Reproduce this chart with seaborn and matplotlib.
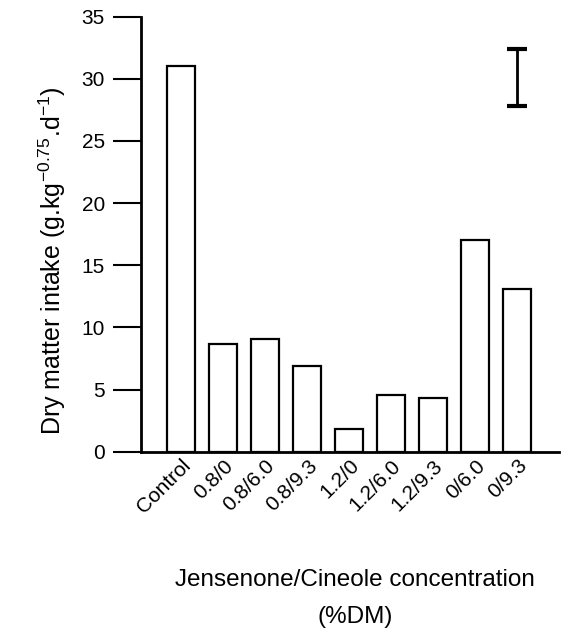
import pandas as pd
import seaborn as sns
from matplotlib import pyplot as plt

# data
treatments = ['Control', '0.8/0', '0.8/6.0', '0.8/9.3', '1.2/0',
              '1.2/6.0', '1.2/9.3', '0/6.0', '0/9.3']
intake = [31.0, 8.7, 9.1, 6.9, 1.8, 4.6, 4.3, 17.0, 13.1]
# standalone error bar (top right)
err_low = 27.8
err_high = 32.4

df = pd.DataFrame({'treatment': treatments, 'intake': intake})

sns.set_style('ticks', {'axes.edgecolor': 'black', 'text.color': 'black',
                        'axes.labelcolor': 'black', 'xtick.color': 'black',
                        'ytick.color': 'black'})
plt.rcParams['font.family'] = ['Liberation Sans', 'DejaVu Sans']
plt.rcParams['mathtext.fontset'] = 'custom'
plt.rcParams['mathtext.rm'] = 'Liberation Sans'
plt.rcParams['mathtext.it'] = 'Liberation Sans'

fig = plt.figure(figsize=(5.71, 6.39), dpi=100)
ax = fig.add_axes([0.247, 0.293, 0.732, 0.681])

sns.barplot(data=df, x='treatment', y='intake', color='white', saturation=1,
            edgecolor='black', linewidth=1.6, width=0.67, ax=ax)

# error bar drawn over the last category position
mid = (err_low + err_high) / 2
ax.errorbar([len(treatments) - 1], [mid], yerr=[[mid - err_low], [err_high - mid]],
            fmt='none', ecolor='black', elinewidth=2, capsize=7.5, capthick=3)

ax.set_ylim(0, 35)
ax.set_yticks(range(0, 36, 5))
ax.set_xlim(-0.96, 9.0)
sns.despine(ax=ax)
ax.spines['left'].set_linewidth(2)
ax.spines['bottom'].set_linewidth(2)
ax.tick_params(axis='y', direction='out', length=20, width=1.5, labelsize=15, pad=6)
ax.tick_params(axis='x', length=0, labelsize=15, pad=3)
for lab in ax.get_xticklabels():
    lab.set_rotation(45)
    lab.set_ha('right')
    lab.set_rotation_mode('anchor')

ax.set_ylabel(r'Dry matter intake (g.kg$^{-0.75}$.d$^{-1}$)', fontsize=18)
ax.yaxis.set_label_coords(-0.175, 0.44)
ax.set_xlabel('Jensenone/Cineole concentration\n(%DM)', fontsize=17.5,
              linespacing=1.85)
ax.xaxis.set_label_coords(0.512, -0.27)

fig.savefig('out.png', dpi=100, facecolor='white')
